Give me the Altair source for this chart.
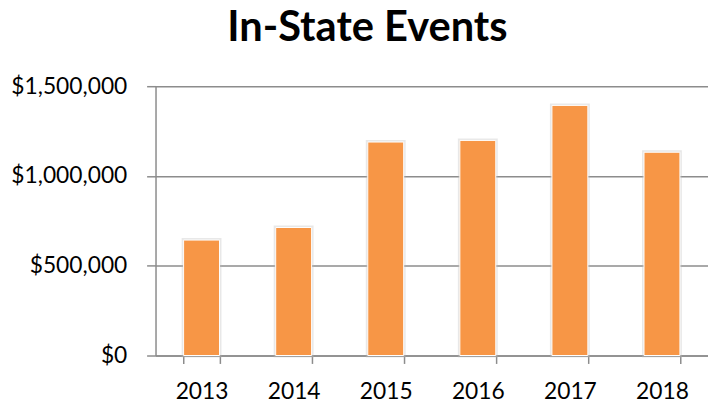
import altair as alt
import pandas as pd

title_text = "In-State Events"
years = ["2013", "2014", "2015", "2016", "2017", "2018"]
amounts = [643000, 713000, 1189000, 1198000, 1393000, 1132000]

df = pd.DataFrame({"year": years, "amount": amounts})

x = alt.X("year:N", sort=years, title=None,
          scale=alt.Scale(paddingInner=0.61, paddingOuter=0.305),
          axis=alt.Axis(labelAngle=0, tickBand="extent", grid=False,
                        domainColor="#8c8c8c", domainWidth=1.5,
                        tickColor="#8c8c8c", tickWidth=1.5, tickSize=8,
                        labelPadding=17, labelFontSize=23, labelFont="Lato",
                        labelColor="#000000"))
y = alt.Y("amount:Q", title=None,
          scale=alt.Scale(domain=[0, 1500000], nice=False),
          axis=alt.Axis(values=[0, 500000, 1000000, 1500000], format="$,.0f",
                        gridColor="#8c8c8c", gridWidth=1.5,
                        domainColor="#8c8c8c", domainWidth=1.5,
                        tickColor="#8c8c8c", tickWidth=1.5, tickSize=9,
                        labelPadding=20, labelFontSize=23, labelFont="Lato",
                        labelColor="#000000"))

base = alt.Chart(df).encode(x=x, y=y)

shadow = base.mark_bar(color="#F79646", stroke="#bdbdbd", strokeWidth=4,
                       strokeOpacity=0.35)
bars = base.mark_bar(color="#F79646", stroke="#ffffff", strokeWidth=1)

title_mark = alt.Chart(pd.DataFrame({"t": [title_text]})).mark_text(
    font="Lato", fontSize=42, fontWeight="bold", color="#000000",
    align="center", baseline="alphabetic"
).encode(text="t:N", x=alt.value(214), y=alt.value(-46))

chart = alt.layer(shadow, bars, title_mark).properties(
    width=558, height=272,
    autosize=alt.AutoSizeParams(type="none"),
    padding={"left": 149, "top": 77, "right": 0, "bottom": 48},
).configure_view(stroke=None)

chart.save("out.html", embed_options={"renderer": "svg", "actions": False})
